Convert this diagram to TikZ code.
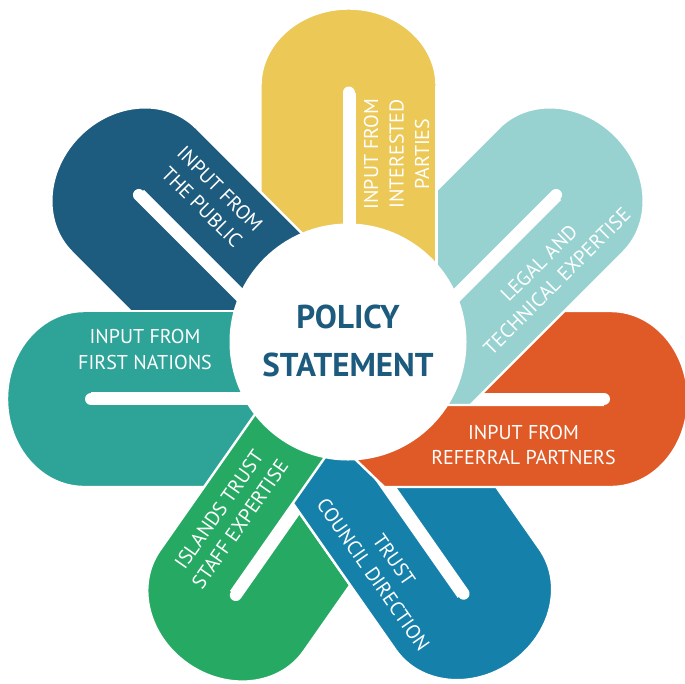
\documentclass[tikz,border=0pt]{standalone}
\usepackage{fontspec}
\setmainfont{PT Sans}
\definecolor{cYel}{HTML}{ECC857}
\definecolor{cLeg}{HTML}{97D2D1}
\definecolor{cOra}{HTML}{E05A27}
\definecolor{cTru}{HTML}{1581AB}
\definecolor{cGre}{HTML}{26AA63}
\definecolor{cTea}{HTML}{2EA498}
\definecolor{cPub}{HTML}{1D5C7E}
\definecolor{cTxt}{HTML}{1D5B7E}
% full petal: colour, Kx, Ky (px, y down), angle, inner length
\newcommand{\petalfull}[5]{%
\begin{scope}[shift={(#2,-#3)},rotate=#4]
\fill[#1,draw=white,line width=2.4] (0,-88) -- (-#5,-88) -- (-#5,88) -- (0,88)
  arc[start angle=90,end angle=-90,x radius=77,y radius=88] -- cycle;
\draw[white,line width=12,line cap=round] (-7,0) -- (-#5,0);
\end{scope}}
% clockwise half of a petal, drawn on top
\newcommand{\petalcw}[5]{%
\begin{scope}[shift={(#2,-#3)},rotate=#4]
\fill[#1] (0,-6) -- (0,-88) -- (-#5,-88) -- (-#5,-6) -- cycle;
\draw[white,line width=2.4,line join=round] (-7,-6) -- (-#5,-6) -- (-#5,-88) -- (0,-88);
\end{scope}}
\begin{document}
\begin{tikzpicture}[x=1pt,y=1pt,
  ptxt/.style={text=white,align=center,inner sep=0pt,font=\fontsize{20}{25.5}\selectfont},
  ctxt/.style={text=cTxt,align=center,inner sep=0pt,font=\bfseries\fontsize{33}{48}\selectfont}]
\useasboundingbox (0,0) rectangle (685,-683);
\clip (0,0) rectangle (685,-683);
% ---- pass 1: whole petals
\petalfull{cYel}{348.5}{85.5}{90}{256.5}
\petalfull{cLeg}{561}{190}{45}{258.4}
% orange (special inner cut)
\begin{scope}[shift={(611,-399)}]
\fill[cOra,draw=white,line width=2.4] (0,-88) -- (-226.8,-88) -- (-318.5,0) -- (-263.5,0) -- (-263.5,88) -- (0,88)
  arc[start angle=90,end angle=-90,x radius=77,y radius=88] -- cycle;
\draw[white,line width=12,line cap=round] (-7,0) -- (-263.5,0);
\end{scope}
\petalfull{cGre}{231.8}{600.8}{-125}{263}
\petalfull{cTru}{467.6}{599.4}{-55}{240}
\petalfull{cTea}{84}{399}{180}{263.5}
\petalfull{cPub}{134}{190}{135}{181}
% ---- pass 2: clockwise halves
\petalcw{cYel}{348.5}{85.5}{90}{256.5}
\petalcw{cLeg}{561}{190}{45}{258.4}
\petalcw{cTru}{467.6}{599.4}{-55}{240}
\begin{scope}[shift={(611,-399)}]
\fill[cOra] (0,-6) -- (0,-88) -- (-226.8,-88) -- (-312.25,-6) -- cycle;
\draw[white,line width=2.4,line join=round] (-7,-6) -- (-312.25,-6) -- (-226.8,-88) -- (0,-88);
\end{scope}
\petalcw{cGre}{231.8}{600.8}{-125}{263}
\petalcw{cTea}{84}{399}{180}{263.5}
\petalcw{cPub}{134}{190}{135}{181}
% ---- hub
\node[circle,fill=white,minimum size=237pt,inner sep=0pt] (hub) at (348,-342) {};
\node[ctxt] (title) at (348,-340.5) {POLICY\\STATEMENT};
% ---- labels
\node[ptxt,rotate=90] (tYel) at (396.5,-154) {INPUT FROM\\INTERESTED\\PARTIES};
\node[ptxt,rotate=45] (tLeg) at (548,-272) {LEGAL AND\\TECHNICAL EXPERTISE};
\node[ptxt] (tOra) at (523.5,-445) {INPUT FROM\\REFERRAL PARTNERS};
\node[ptxt,rotate=-55] (tTru) at (383.7,-567) {TRUST\\COUNCIL DIRECTION};
\node[ptxt,rotate=55] (tGre) at (229.5,-517) {ISLANDS TRUST\\STAFF EXPERTISE};
\node[ptxt] (tTea) at (145,-349.5) {INPUT FROM\\FIRST NATIONS};
\node[ptxt,rotate=-45] (tPub) at (211,-198) {INPUT FROM\\THE PUBLIC};
\end{tikzpicture}
\end{document}
